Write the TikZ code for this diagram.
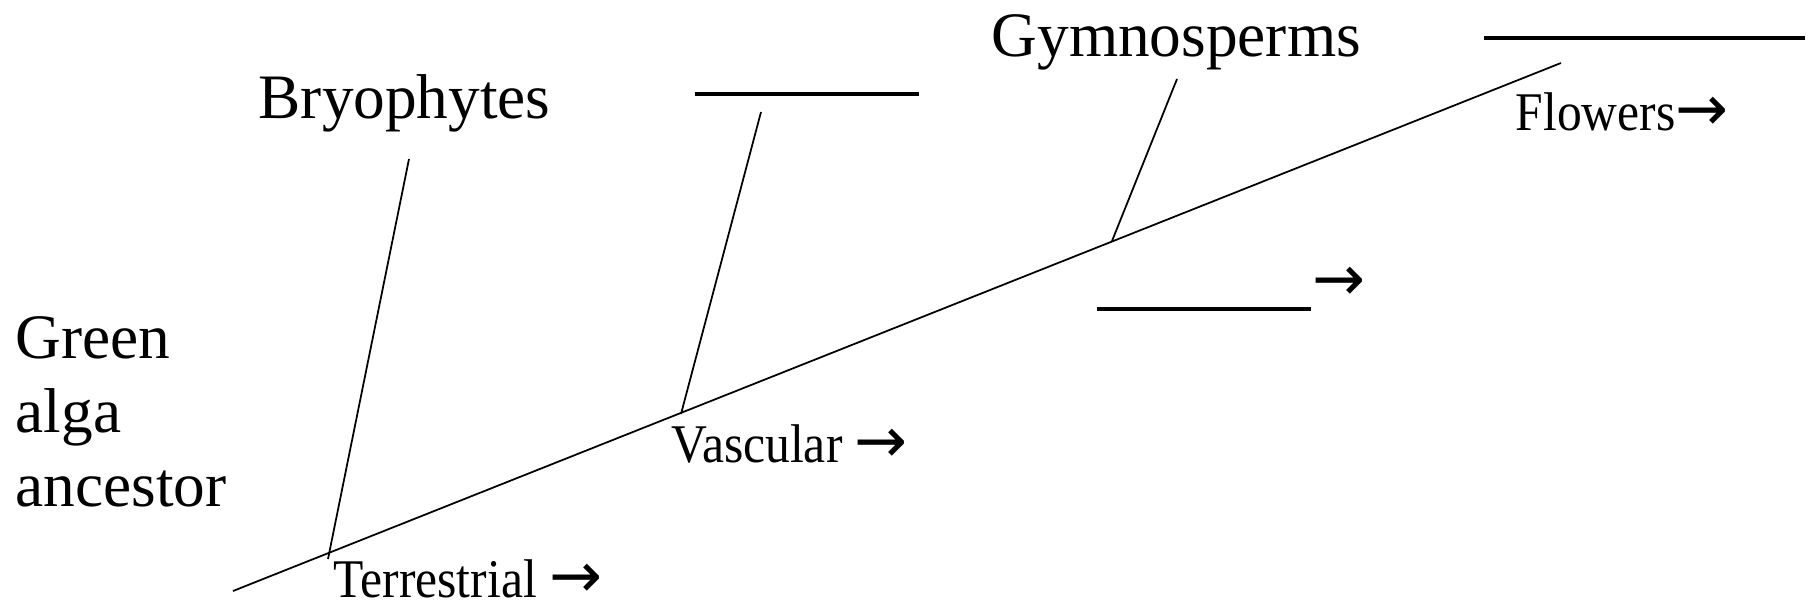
\documentclass[tikz,border=0pt]{standalone}
\usepackage{fontspec}
\setmainfont{Liberation Serif}
\newfontfamily\labelfont[FakeStretch=0.91]{Liberation Serif}
\newfontfamily\arrowfont{DejaVu Sans}
\newcommand{\rarr}{{\arrowfont\fontsize{18}{18}\selectfont →}}

\begin{document}
\begin{tikzpicture}[
    x=0.01cm, y=-0.01cm,
    stem/.style={line width=0.5pt},
    blank/.style={line width=1.2pt},
    big/.style={font=\fontsize{18}{21}\selectfont, inner sep=0pt, anchor=base west},
    small/.style={font=\labelfont\fontsize{15.5}{17}\selectfont, inner sep=0pt, anchor=base west}
]
    \useasboundingbox (0,0) rectangle (1811,609);

    % ==========================================
    % MAIN LINE (ancestor -> flowers)
    % ==========================================
    \coordinate (root) at (233, 591);
    \coordinate (tip)  at (1561, 63);
    \draw[stem] (root) -- (tip);

    % Branch points on the main line and free ends
    \coordinate (terr_base)  at (328, 559);
    \coordinate (terr_top)   at (409, 159);
    \coordinate (vasc_base)  at (681, 414);
    \coordinate (vasc_top)   at (761, 112);
    \coordinate (gymno_base) at (1112, 241);
    \coordinate (gymno_top)  at (1177, 79);

    \draw[stem] (terr_base)  -- (terr_top);
    \draw[stem] (vasc_base)  -- (vasc_top);
    \draw[stem] (gymno_base) -- (gymno_top);

    % ==========================================
    % BLANKS (to be filled in)
    % ==========================================
    \coordinate (blank_a_l) at (695, 94);
    \coordinate (blank_a_r) at (919, 94);
    \coordinate (blank_b_l) at (1484, 38);
    \coordinate (blank_b_r) at (1805, 38);
    \coordinate (blank_c_l) at (1097, 309);
    \coordinate (blank_c_r) at (1311, 309);

    \draw[blank] (blank_a_l) -- (blank_a_r);
    \draw[blank] (blank_b_l) -- (blank_b_r);
    \draw[blank] (blank_c_l) -- (blank_c_r);

    % ==========================================
    % LABELS
    % ==========================================
    \node[big] (bryo)  at (258, 118) {Bryophytes};
    \node[big] (gymno) at (991, 56)  {Gymnosperms};
    \node[big, align=left] (alga) at (15, 506) {Green\\alga\\ancestor};

    \node[small] (terr)  at (333, 597)  {Terrestrial \rarr};
    \node[small] (vasc)  at (671, 462)  {Vascular \rarr};
    \node[small] (flow)  at (1515, 130) {Flowers\rarr};
    \node[big, anchor=west, font=\fontsize{19}{20}\selectfont] (arrow_c) at (1312, 284) {\rarr};

\end{tikzpicture}
\end{document}
